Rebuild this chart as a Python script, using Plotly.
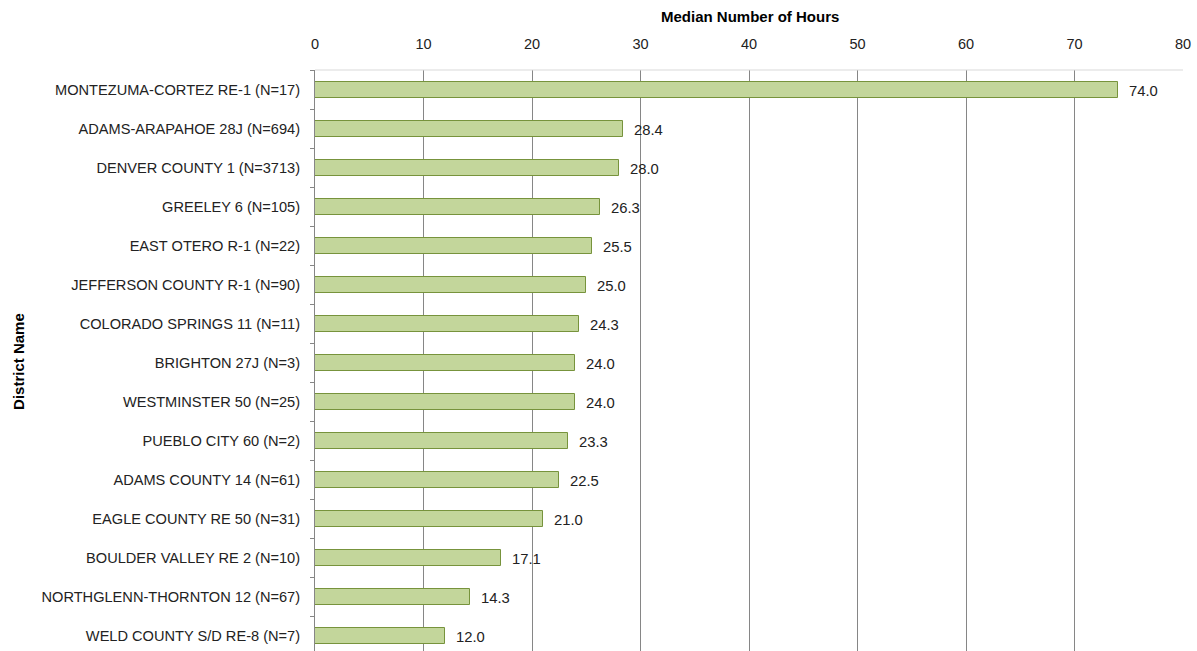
import plotly.graph_objects as go

districts = [
    "MONTEZUMA-CORTEZ RE-1 (N=17)",
    "ADAMS-ARAPAHOE 28J (N=694)",
    "DENVER COUNTY 1 (N=3713)",
    "GREELEY 6 (N=105)",
    "EAST OTERO R-1 (N=22)",
    "JEFFERSON COUNTY R-1 (N=90)",
    "COLORADO SPRINGS 11 (N=11)",
    "BRIGHTON 27J (N=3)",
    "WESTMINSTER 50 (N=25)",
    "PUEBLO CITY 60 (N=2)",
    "ADAMS COUNTY 14 (N=61)",
    "EAGLE COUNTY RE 50 (N=31)",
    "BOULDER VALLEY RE 2 (N=10)",
    "NORTHGLENN-THORNTON 12 (N=67)",
    "WELD COUNTY S/D RE-8 (N=7)",
]
hours = [74.0, 28.4, 28.0, 26.3, 25.5, 25.0, 24.3, 24.0, 24.0, 23.3, 22.5, 21.0, 17.1, 14.3, 12.0]
x_ticks = [0, 10, 20, 30, 40, 50, 60, 70, 80]

pos = list(range(len(districts)))

font = "Liberation Sans, Arial, sans-serif"
W, H = 1197, 651
L, R, T = 314.5, 14, 69.5
plot_w = W - L - R
plot_h = H - T

fig = go.Figure()
fig.add_trace(go.Bar(
    x=hours, y=pos, orientation="h",
    width=0.41,
    marker=dict(color="#c3d69b", line=dict(color="#77933c", width=1)),
    hoverinfo="skip",
))

for v, p in zip(hours, pos):
    fig.add_annotation(x=v, y=p, text=f"{v:.1f}", showarrow=False,
                       xanchor="left", xshift=9, yshift=-1,
                       font=dict(family=font, size=14.8, color="#222222"))

# axis titles
fig.add_annotation(xref="paper", yref="paper",
                   x=(750 - L) / plot_w, y=1 + (T - 16) / plot_h,
                   text="<b>Median Number of Hours</b>", showarrow=False,
                   xanchor="center", yanchor="middle",
                   font=dict(family=font, size=15, color="#000000"))
fig.add_annotation(xref="paper", yref="paper",
                   x=-(L - 18) / plot_w, y=(H - 361) / plot_h,
                   text="<b>District Name</b>", showarrow=False, textangle=-90,
                   xanchor="center", yanchor="middle",
                   font=dict(family=font, size=15, color="#000000"))

fig.update_layout(
    width=W, height=H,
    margin=dict(l=L, r=R, t=T, b=0),
    paper_bgcolor="white", plot_bgcolor="white",
    showlegend=False,
    bargap=0,
    font=dict(family=font, size=14.5, color="#222222"),
)

fig.update_xaxes(
    side="top", range=[0, 80], tickvals=x_ticks,
    showgrid=True, gridcolor="#868686", gridwidth=1,
    zeroline=False, showline=False,
    ticks="outside", ticklen=14, tickcolor="rgba(0,0,0,0)",
    tickfont=dict(family=font, size=14.5, color="#222222"),
)

fig.update_yaxes(
    range=[14 + (H - 636) / 39.07, -0.5],
    tickvals=pos, ticktext=districts,
    showgrid=False, zeroline=False,
    showline=True, linecolor="#868686", linewidth=1,
    ticks="outside", ticklen=11, tickcolor="rgba(0,0,0,0)",
    minor=dict(tick0=0.5, dtick=1, ticks="outside", ticklen=4, tickcolor="#868686", showgrid=False),
    tickfont=dict(family=font, size=14.6, color="#222222"),
)

# light top border of plot area
fig.add_shape(type="line", xref="paper", yref="paper", x0=0, x1=1, y0=1, y1=1,
              line=dict(color="#d9d9d9", width=1))

fig.write_html("out.html")
